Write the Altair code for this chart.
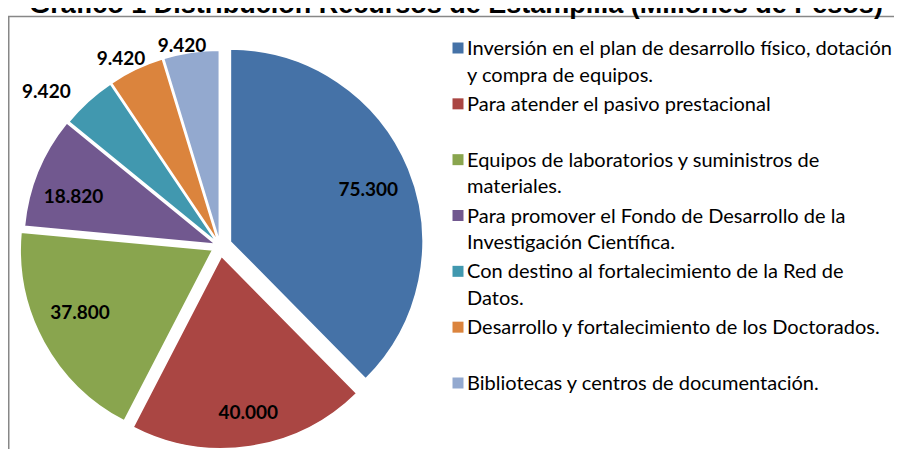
import math
import altair as alt
import pandas as pd

# ---------------- data ----------------
categories = [
    "Inversión en el plan de desarrollo físico, dotación y compra de equipos.",
    "Para atender el pasivo prestacional",
    "Equipos de laboratorios y suministros de materiales.",
    "Para promover el Fondo de Desarrollo de la Investigación Científica.",
    "Con destino al fortalecimiento de la Red de Datos.",
    "Desarrollo y fortalecimiento de los Doctorados.",
    "Bibliotecas y centros de documentación.",
]
legend_labels = [
    "Inversión en el plan de desarrollo físico, dotación\ny compra de   equipos.",
    "Para atender el pasivo prestacional",
    "Equipos de laboratorios y suministros de\nmateriales.",
    "Para promover el Fondo de Desarrollo de la\nInvestigación Científica.",
    "Con destino al fortalecimiento de la Red de\nDatos.",
    "Desarrollo y fortalecimiento de los Doctorados.",
    "Bibliotecas y centros de documentación.",
]
values = [75300, 40000, 37800, 18820, 9420, 9420, 9420]
colors = ["#4572A7", "#AA4643", "#89A54E", "#71588F", "#4198AF", "#DB843D", "#93A9CF"]
title_text = "Gráfico 1 Distribución Recursos de Estampilla (Millones de Pesos)"

# ---------------- styles (not data) ----------------
explode = [11, 10, 8, 4, 3, 3, 3]
label_radius = [147, 159, 147, 150, 228, 209, 200]
label_nudge = [(2, 4), (3, 0), (-4, -7), (-4, 9), (-18, 17), (-8, 4), (-8, 1)]
CX, CY, R = 212, 238, 193

# ---------------- table ----------------
df = pd.DataFrame({"category": categories, "value": values, "legend": legend_labels})
df["order"] = range(len(df))
df["end"] = df["value"].cumsum()
df["start"] = df["end"] - df["value"]
df["mid"] = (df["start"] + df["end"]) / 2
df["label"] = df["value"].map(lambda v: f"{v:,}".replace(",", "."))
total = float(df["value"].sum())

color = alt.Color("category:N", scale=alt.Scale(domain=categories, range=colors), legend=None)
tscale = alt.Scale(domain=[0, total])

base = alt.Chart(df)
layers = []

# frame lines and title
one = alt.Chart(pd.DataFrame({"k": [0]}))
layers.append(one.mark_rule(color="#878787", strokeWidth=1.5).encode(
    x=alt.value(0), x2=alt.value(886), y=alt.value(8.5)))
layers.append(one.mark_rule(color="#878787", strokeWidth=1.5).encode(
    x=alt.value(0.75), y=alt.value(8.5), y2=alt.value(441)))
layers.append(one.mark_text(font="Liberation Sans", fontWeight="bold", fontSize=27,
                            align="center", baseline="alphabetic", color="black").encode(
    x=alt.value(448), y=alt.value(5), text=alt.value(title_text)))

for i in range(len(df)):
    ang = df["mid"].iloc[i] / total * 2 * math.pi
    ex = explode[i] * math.sin(ang)
    ey = -explode[i] * math.cos(ang)
    sel = base.transform_filter(alt.datum.order == i)
    layers.append(sel.mark_arc(x=CX + ex, y=CY + ey, outerRadius=R, stroke="white",
                               strokeWidth=2, opacity=1).encode(
        theta=alt.Theta("start:Q", stack=None, scale=tscale),
        theta2="end:Q",
        color=color,
    ))
    layers.append(sel.mark_text(x=CX + ex, y=CY + ey, radius=label_radius[i],
                                dx=label_nudge[i][0], dy=label_nudge[i][1],
                                font="Lato", fontWeight="bold", fontSize=19,
                                align="center", baseline="middle", color="black").encode(
        theta=alt.Theta("mid:Q", stack=None, scale=tscale),
        text="label:N",
    ))

yleg = alt.Y("order:O", scale=alt.Scale(type="point", range=[40, 375], padding=0), axis=None)
layers.append(base.mark_square(x=450, size=121, filled=True, opacity=1).encode(y=yleg, color=color))
layers.append(base.mark_text(x=459, align="left", baseline="alphabetic", dy=7, lineBreak="\n",
                             lineHeight=26.5, font="Lato", fontSize=20, color="black").encode(
    y=yleg, text="legend:N"))

chart = alt.layer(*layers).properties(
    width=886, height=441, padding=0, autosize="none", background="white"
).configure_view(stroke=None)

chart.save("out.html", embed_options={"renderer": "svg", "actions": False})
